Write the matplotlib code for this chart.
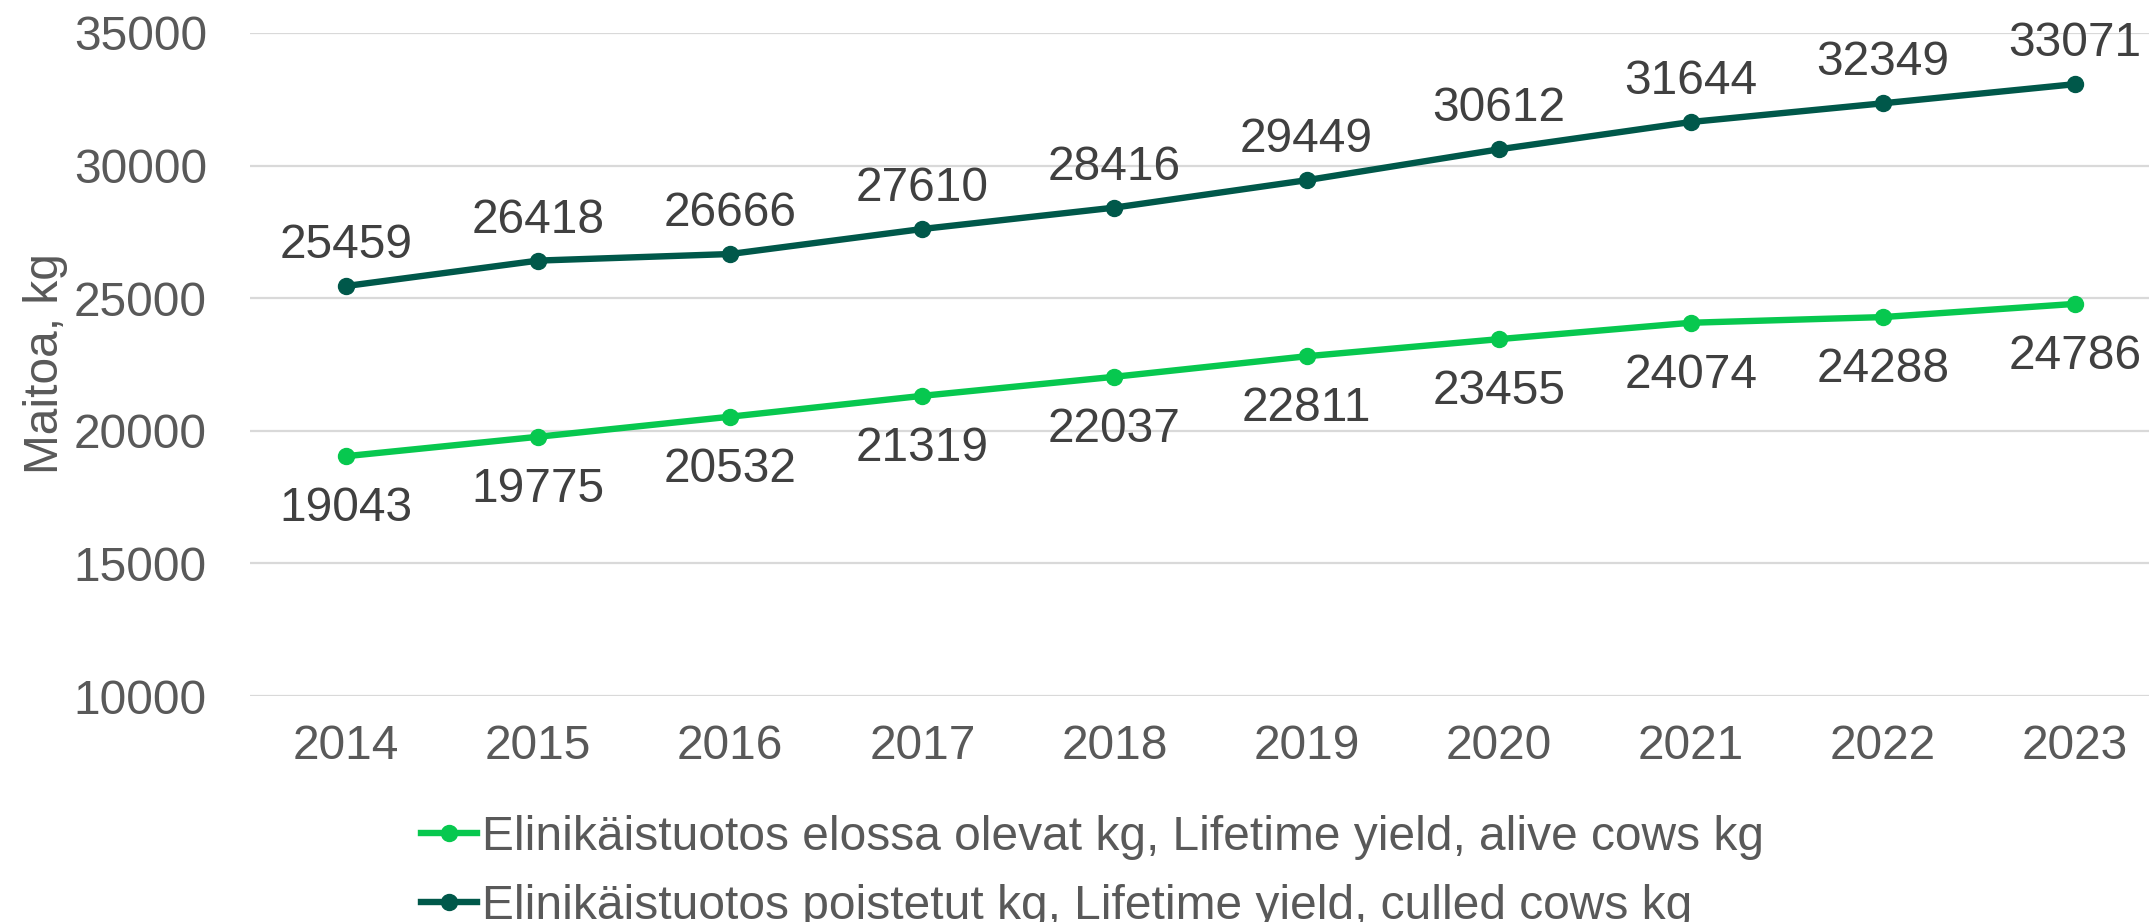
import matplotlib
matplotlib.use("Agg")
import matplotlib.pyplot as plt

years = ["2014", "2015", "2016", "2017", "2018", "2019", "2020", "2021", "2022", "2023"]
alive = [19043, 19775, 20532, 21319, 22037, 22811, 23455, 24074, 24288, 24786]
culled = [25459, 26418, 26666, 27610, 28416, 29449, 30612, 31644, 32349, 33071]
label_alive = "Elinikäistuotos elossa olevat kg, Lifetime yield, alive cows kg"
label_culled = "Elinikäistuotos poistetut kg, Lifetime yield, culled cows kg"
yticks = [10000, 15000, 20000, 25000, 30000, 35000]

plt.rcParams['font.family'] = ['Liberation Sans', 'DejaVu Sans']
FS = 34.5
W, H = 2149, 922
fig = plt.figure(figsize=(W / 100, H / 100), dpi=100)
ax = fig.add_axes([250 / W, (H - 696) / H, 1921 / W, (696 - 33) / H])

c_alive = "#07C84F"
c_culled = "#00584A"
x = list(range(len(years)))

for s, ys, lab in [(c_alive, alive, label_alive), (c_culled, culled, label_culled)]:
    ax.plot(x, ys, color=s, lw=4.6, marker='o', ms=11.5, label=lab, zorder=3)

for xi, v in zip(x, culled):
    ax.annotate(str(v), (xi, v), xytext=(0, 20.2), textcoords='offset points',
                ha='center', va='baseline', fontsize=FS, color='#404040')
for xi, v in zip(x, alive):
    ax.annotate(str(v), (xi, v), xytext=(0, -46.8), textcoords='offset points',
                ha='center', va='baseline', fontsize=FS, color='#404040')

ax.set_xlim(-0.5, 9.5)
ax.set_ylim(10000, 35000)
ax.set_yticks(yticks)
ax.set_yticklabels([str(t) for t in yticks])
ax.set_xticks(x)
ax.set_xticklabels(years)
ax.grid(axis='y', color='#D9D9D9', lw=1.6)
ax.set_axisbelow(True)
for sp in ax.spines.values():
    sp.set_visible(False)
ax.tick_params(axis='both', length=0, labelsize=FS, colors='#595959')
ax.tick_params(axis='y', pad=31)
ax.tick_params(axis='x', pad=20)

fig.text(45 / W, 1 - 364 / H, "Maitoa, kg", rotation=90, ha='center', va='center',
         fontsize=FS, color='#595959')

leg = fig.legend(loc='upper left', bbox_to_anchor=(421 / W, 1 - 815 / H), frameon=False,
                 fontsize=FS, handlelength=1.17, handletextpad=0.1, labelspacing=0.5,
                 borderpad=0, borderaxespad=0)
for t in leg.get_texts():
    t.set_color('#595959')

fig.savefig("out.png", dpi=100)
